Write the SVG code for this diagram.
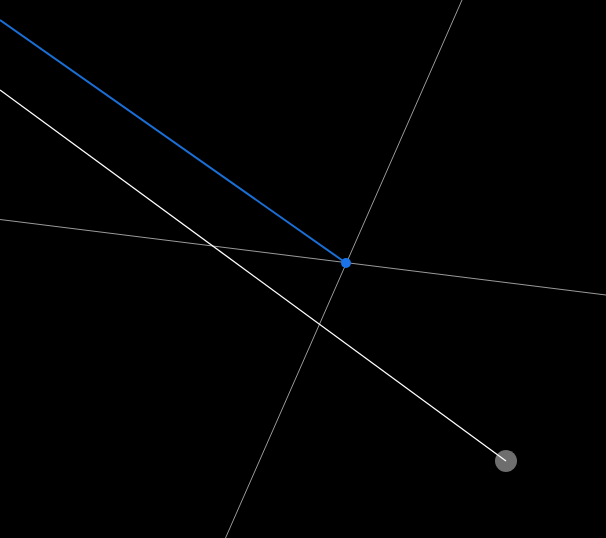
<svg xmlns="http://www.w3.org/2000/svg" width="606" height="538" viewBox="0 0 606 538">
<style>
.guide{stroke:#9a9a9a;stroke-width:1;fill:none}
.ray{stroke:#ffffff;stroke-width:1.3;fill:none}
.blue{stroke:#1a6fd6;stroke-width:2;fill:none}
</style>
<rect width="606" height="538" fill="#000"/>
<g id="handle">
<circle cx="506" cy="461" r="11" fill="#6e6e6e"/>
</g>
<g id="connectors">
<line class="guide" x1="462" y1="0" x2="225.5" y2="538"/>
<line class="guide" x1="0" y1="219.5" x2="606" y2="295"/>
<line class="ray" x1="0" y1="90" x2="506" y2="461"/>
<line class="blue" x1="0" y1="20" x2="346" y2="263"/>
</g>
<g id="point">
<circle cx="346" cy="263" r="5" fill="#1a73e8"/>
</g>
</svg>
